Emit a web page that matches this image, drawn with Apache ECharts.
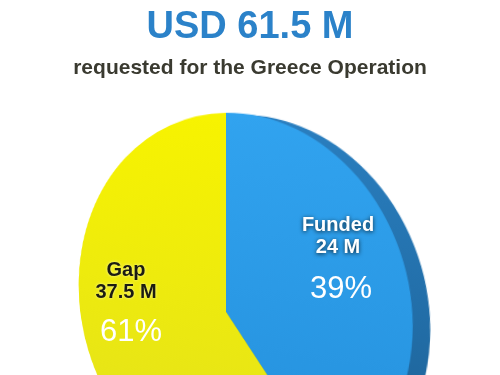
<!DOCTYPE html>
<html>
<head>
<meta charset="utf-8">
<script src="https://cdn.jsdelivr.net/npm/echarts@6/dist/echarts.min.js"></script>
<style>
  html, body { margin: 0; padding: 0; width: 500px; height: 375px; overflow: hidden; background: #ffffff; }
  #pie { position: absolute; left: 0; top: 0; width: 500px; height: 540px;
         transform-origin: 226px 312px;
         transform: perspective(854px) rotateX(-12deg) rotateY(-32deg); }
  #text { position: absolute; left: 0; top: 0; width: 500px; height: 375px; pointer-events: none; }
</style>
</head>
<body>
<div id="pie"></div>
<div id="text"></div>
<script>
// ---- data ----
const categories = ['Funded', 'Gap'];
const amounts = [24, 37.5];           // USD million
const currency = 'USD';
const unit = 'M';
const subtitle = 'requested for the Greece Operation';

const total = amounts.reduce((a, b) => a + b, 0);
const percents = amounts.map(v => Math.round(v / total * 100));

// ---- styles ----
const FONT = '"Liberation Sans", Arial, Helvetica, sans-serif';
const faceColors = [
  { type: 'linear', x: 0, y: 0, x2: 0, y2: 1, colorStops: [{ offset: 0, color: '#31a3ef' }, { offset: 1, color: '#2490dc' }] },
  { type: 'linear', x: 0, y: 0, x2: 0, y2: 1, colorStops: [{ offset: 0, color: '#f7f300' }, { offset: 1, color: '#e2e01e' }] }
];
const sideColors = [
  { type: 'linear', x: 0, y: 0, x2: 0, y2: 1, colorStops: [{ offset: 0, color: '#2a7fc0' }, { offset: 1, color: '#1a5d90' }] },
  '#b9b500'
];

const pieChart = echarts.init(document.getElementById('pie'), null, { renderer: 'canvas' });
const mkData = (colors) => categories.map((c, i) => ({ name: c, value: amounts[i], itemStyle: { color: colors[i] } }));

pieChart.setOption({
  animation: false,
  series: [
    {
      type: 'pie', silent: true, z: 1,
      center: [242, 314], radius: 194, startAngle: 90, clockwise: true,
      label: { show: false }, labelLine: { show: false },
      data: mkData(sideColors)
    },
    {
      type: 'pie', silent: true, z: 2,
      center: [226, 312], radius: 194, startAngle: 90, clockwise: true,
      label: { show: false }, labelLine: { show: false },
      itemStyle: { borderWidth: 0 },
      data: mkData(faceColors)
    }
  ]
});

const textChart = echarts.init(document.getElementById('text'), null, { renderer: 'canvas' });
const labelText = (i) => categories[i] + '\n' + amounts[i] + ' ' + unit;

textChart.setOption({
  animation: false,
  graphic: [
    { type: 'text', x: 250, y: 9, silent: true,
      style: { text: currency + ' ' + total + ' ' + unit, font: 'bold 38px ' + FONT, fill: '#2b82c9', align: 'center', verticalAlign: 'top' } },
    { type: 'text', x: 250, y: 58, silent: true,
      style: { text: subtitle, font: 'bold 21px ' + FONT, fill: '#3a3a30', align: 'center', verticalAlign: 'top' } },
    // Funded labels
    { type: 'text', x: 338, y: 214, silent: true,
      style: { text: labelText(0), font: 'bold 20px ' + FONT, lineHeight: 22, fill: '#ffffff', align: 'center', verticalAlign: 'top',
               textShadowColor: 'rgba(0,0,0,0.75)', textShadowBlur: 4, textShadowOffsetX: 0, textShadowOffsetY: 1 } },
    { type: 'text', x: 341, y: 274, silent: true,
      style: { text: percents[0] + '%', font: '31px ' + FONT, fill: '#ffffff', align: 'center', verticalAlign: 'top' } },
    // Gap labels
    { type: 'text', x: 126, y: 259, silent: true,
      style: { text: labelText(1), font: 'bold 20px ' + FONT, lineHeight: 22, fill: '#1b1b12', align: 'center', verticalAlign: 'top',
               textShadowColor: 'rgba(255,255,200,0.8)', textShadowBlur: 3 } },
    { type: 'text', x: 131, y: 317, silent: true,
      style: { text: percents[1] + '%', font: '31px ' + FONT, fill: '#ffffff', align: 'center', verticalAlign: 'top' } }
  ]
});
</script>
</body>
</html>
